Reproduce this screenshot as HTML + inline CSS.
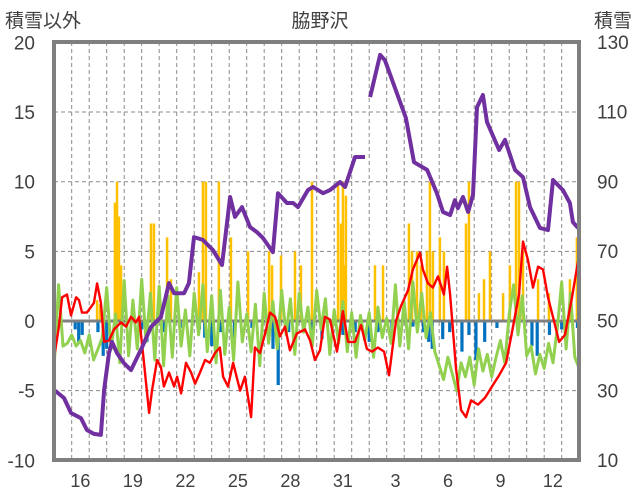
<!DOCTYPE html>
<html><head><meta charset="utf-8"><style>
html,body{margin:0;padding:0;background:#fff;}
svg{display:block;font-family:"Liberation Sans","Noto Sans CJK JP",sans-serif;}
</style></head><body>
<svg id="chart" width="636" height="501" viewBox="0 0 636 501">
<defs><clipPath id="pc"><rect x="54" y="42" width="525" height="418"/></clipPath></defs>
<g id="grid"></g>
<g id="marks" clip-path="url(#pc)"></g>
<rect x="54" y="42" width="525" height="418" fill="none" stroke="#7f7f7f" stroke-width="4"/>
<text x="5" y="27" font-size="19" fill="#404040">積雪以外</text>
<text x="320" y="27" font-size="19" fill="#404040" text-anchor="middle">脇野沢</text>
<text x="632" y="27" font-size="19" fill="#404040" text-anchor="end">積雪</text>
<g id="axes"></g>
</svg>
<script>
const leftTicks=[20,15,10,5,0,-5,-10];
const rightTicks=[130,110,90,70,50,30,10];
const xLabels=["16","19","22","25","28","31","3","6","9","12"];
const xLabelDays=[1,4,7,10,13,16,19,22,25,28];
const snowT=[0,.56,.96,1.53,1.87,2.27,2.67,2.85,3.13,3.30,3.59,3.99,4.39,4.67,5.02,5.53,6.10,6.56,6.85,7.42,7.70,7.99,8.50,8.79,9.07,9.59,10.05,10.33,10.73,11.19,11.59,11.93,12.50,12.79,13.30,13.65,13.93,14.50,14.79,15.36,15.76,16.33,16.62,17.19,17.76,null,18.05,18.62,18.90,20.10,20.56,21.31,21.87,22.22,22.62,22.90,23.07,23.36,23.65,23.93,24.16,24.50,24.73,25.42,25.76,26.33,26.79,27.19,27.76,28.22,28.50,29.07,29.47,29.64,29.93];
const snowV=[30.1,27.8,23.5,22.0,18.6,17.5,17.2,30.1,40.7,43.9,40.7,37.8,35.8,38.7,42.4,48.2,51.0,60.8,57.9,57.9,60.8,74.0,73.2,71.7,70.3,66.0,85.5,79.8,82.6,76.9,75.4,73.7,69.7,86.6,83.8,83.8,82.6,87.5,88.4,86.6,87.5,89.8,88.4,97.0,97.0,null,114.2,126.3,124.8,108.2,95.5,93.3,86.6,81.2,80.3,84.6,82.3,85.5,81.2,86.1,111.3,114.8,107.0,99.0,101.9,93.3,91.2,82.6,76.6,76.0,90.4,87.5,83.8,78.3,76.6];
const tempT=[0,.27,.45,.73,.96,1.25,1.42,1.59,1.87,2.27,2.45,2.67,2.85,3.13,3.42,3.82,4.10,4.39,4.67,4.85,5.13,5.42,5.59,5.88,6.10,6.27,6.56,6.85,7.02,7.25,7.53,7.82,8.05,8.33,8.62,8.90,9.19,9.47,9.65,9.93,10.22,10.62,10.90,11.25,11.47,11.76,12.05,12.33,12.62,12.90,13.19,13.47,13.87,14.33,14.62,14.90,15.19,15.47,15.76,16.16,16.50,16.79,17.19,17.53,17.87,18.16,18.50,18.85,19.13,19.53,19.82,20.22,20.50,20.90,21.07,21.36,21.64,21.93,22.27,22.45,22.62,22.96,23.25,23.53,23.82,24.22,24.62,25.02,25.42,25.82,26.16,26.56,26.79,27.07,27.36,27.65,27.93,28.22,28.56,28.85,29.19,29.59,29.99];
const tempV=[-2.6,-.4,1.7,1.9,.4,1.7,1.5,.6,.6,1.3,2.7,1.3,-1.5,-1.4,-.6,-.1,-.4,.3,-.1,.3,-3.0,-6.6,-5.0,-2.8,-3.3,-4.7,-3.7,-4.7,-4.0,-5.2,-3.0,-3.7,-4.5,-3.7,-2.8,-3.0,-2.3,-1.9,-4.0,-4.7,-3.0,-5.0,-4.0,-6.9,-1.9,-2.3,-.9,.6,.3,-1.1,-.4,-2.1,-.9,-.6,-1.4,-2.8,-2.1,.3,.1,-2.2,.7,-1.5,-1.5,-.3,-2.0,-2.2,-1.9,-2.2,-3.9,0,1.1,2.2,3.7,4.9,3.7,2.7,2.4,3.2,1.9,3.9,1.9,-3.4,-6.4,-6.9,-5.7,-6.0,-5.5,-4.7,-3.9,-3.0,-.8,1.9,5.7,4.4,2.4,3.9,3.7,1.7,0,-1.5,-1.0,1.7,4.7];
const greenV=[-3.2,2.6,-1.8,-1.6,-1.0,-1.8,-1.4,-2.3,-1.0,-2.8,-2.0,-1.2,
2.4,-2.0,0.5,-3.0,2.9,-2.5,1.5,-2.0,3.0,-1.5,2.0,-2.8,
2.5,-3.2,1.8,-2.6,2.4,-1.8,0.8,-2.5,2.0,-1.0,2.6,-2.2,
1.8,-3.0,2.2,-2.4,1.0,-2.8,2.8,-1.5,0.5,-2.2,1.2,-3.2,
2.0,-1.6,1.4,-2.0,2.2,-1.0,1.6,-2.4,2.0,-0.8,1.0,-1.8,
2.2,-0.6,1.6,-2.4,0.8,-1.6,1.4,-2.2,0.6,-2.6,0.4,-1.4,
0.6,-2.6,1.0,-1.2,0.2,-1.6,2.6,-1.8,1.4,-2.0,2.8,-0.8,
2.0,-1.2,0.6,-2.2,-3.2,-4.2,-2.6,-3.8,-5.0,-3.0,-4.0,-2.6,
-4.6,-2.0,-3.6,-2.4,-4.0,-2.6,-1.4,-3.0,0.5,2.6,-1.0,1.8,
-2.5,-1.8,-3.8,-2.4,-3.4,-1.6,-3.0,-0.5,2.8,-2.0,2.0,-2.6,-3.4];
const greenStep=0.25;
const precipT=[2.45,2.62,3.47,3.59,3.70,3.82,5.53,5.70,6.45,6.67,8.27,8.50,8.67,9.41,10.1,11.08,12.28,12.45,12.96,13.76,14.1,14.73,16.22,16.39,16.5,16.55,16.67,18.33,18.79,20.27,20.45,20.73,20.96,21.3,21.47,21.64,22.04,22.27,23.53,23.7,24.27,24.56,24.9,25.65,26.04,26.39,26.56,26.79,27.65,28.27,29.47,29.87];
const precipV=[1.5,1.2,8.5,10,7.5,4,7,7,6,3,3.5,10,10,10,6,5,5,4,4.7,5,4,10,10,7,10,4,9,4,4,7,5,5,4,5,10,5,6,5,7,10,2,3,5,2,4,10,10,5,3,2,3,6];
const negT=[0.1,1.2,1.4,1.6,2.5,2.8,3.0,3.5,5.0,5.3,6.3,7.2,8.3,8.6,9.0,9.5,10.3,11.3,12.5,12.8,13.4,14.7,15.3,16.5,17.2,18.0,18.5,19.3,20.5,21.1,21.4,21.6,22.2,22.6,23.3,23.7,24.1,24.6,25.3,26.5,27.3,27.6,28.3,29.0,29.9];
const negV=[-0.5,-0.6,-1.5,-1.0,-0.8,-2.5,-2.0,-0.5,-0.6,-1.5,-0.8,-0.5,-0.6,-1.2,-1.8,-0.8,-1.2,-0.5,-2.0,-4.6,-0.8,-1.0,-1.3,-1.0,-0.8,-1.5,-0.8,-1.2,-0.4,-0.8,-1.5,-2.0,-1.3,-0.8,-2.2,-1.0,-2.8,-1.5,-0.5,-0.8,-1.8,-2.5,-1.0,-0.6,-0.5];

const X0=54.2,DAY=17.5;
function xs(t){return X0+t*DAY;}
function yL(v){return 321-v*13.93;}
function yR(v){return 460-(v-10)*3.483;}
const NS="http://www.w3.org/2000/svg";
function mk(tag,attrs,parent){const e=document.createElementNS(NS,tag);for(const k in attrs)e.setAttribute(k,attrs[k]);parent.appendChild(e);return e;}
const grid=document.getElementById('grid'),marks=document.getElementById('marks'),axes=document.getElementById('axes');

for(let d=1;d<30;d++){
  const l=mk('line',{x1:xs(d),x2:xs(d),y1:42,y2:460,stroke:'#8a8a8a','stroke-width':1,'stroke-dasharray':'4 3'},grid);
  
  
}
leftTicks.forEach(v=>{
  if(v!==20&&v!==-10&&v!==0){
    const l=mk('line',{x1:54,x2:579,y1:yL(v),y2:yL(v),stroke:'#8a8a8a','stroke-width':1,'stroke-dasharray':'4 3'},grid);
    
    
  }
  const t=mk('text',{x:35,y:yL(v)+7,'font-size':19,'text-anchor':'end',fill:'#404040'},axes);
  t.textContent=v;
  
  
});
rightTicks.forEach(v=>{
  const t=mk('text',{x:597,y:yR(v)+7,'font-size':19,fill:'#404040'},axes);
  t.textContent=v;
  
  
});
xLabels.forEach((s,i)=>{
  const t=mk('text',{x:xs(xLabelDays[i]+0.5),y:487,'font-size':18,'text-anchor':'middle',fill:'#404040'},axes);
  t.textContent=s;
  
  
});

precipT.forEach((t,i)=>{
  const r=mk('rect',{x:xs(t)-1.25,y:yL(precipV[i]),width:2.5,height:yL(0)-yL(precipV[i]),fill:'#FFC000'},marks);
  
  
});
negT.forEach((t,i)=>{
  const r=mk('rect',{x:xs(t)-1.6,y:yL(0),width:3.2,height:yL(negV[i])-yL(0),fill:'#0070C0'},marks);
  
  
});
const zl=mk('line',{x1:54,x2:579,y1:yL(0),y2:yL(0),stroke:'#7f7f7f','stroke-width':3},marks);



function pathFrom(ts,vs,yf){
  let d='',pen=false;
  for(let i=0;i<ts.length;i++){
    if(ts[i]===null||vs[i]===null){pen=false;continue;}
    d+=(pen?'L':'M')+xs(ts[i]).toFixed(1)+' '+yf(vs[i]).toFixed(1);pen=true;
  }
  return d;
}
const gT=greenV.map((v,i)=>i*greenStep);
const g=mk('path',{d:pathFrom(gT,greenV,yL),fill:'none',stroke:'#92D050','stroke-width':3,'stroke-linejoin':'round'},marks);


const r=mk('path',{d:pathFrom(tempT,tempV,yL),fill:'none',stroke:'#FF0000','stroke-width':2.4,'stroke-linejoin':'round'},marks);


const p=mk('path',{d:pathFrom(snowT,snowV,yR),fill:'none',stroke:'#7030A0','stroke-width':4,'stroke-linejoin':'round'},marks);


</script>
</body></html>
